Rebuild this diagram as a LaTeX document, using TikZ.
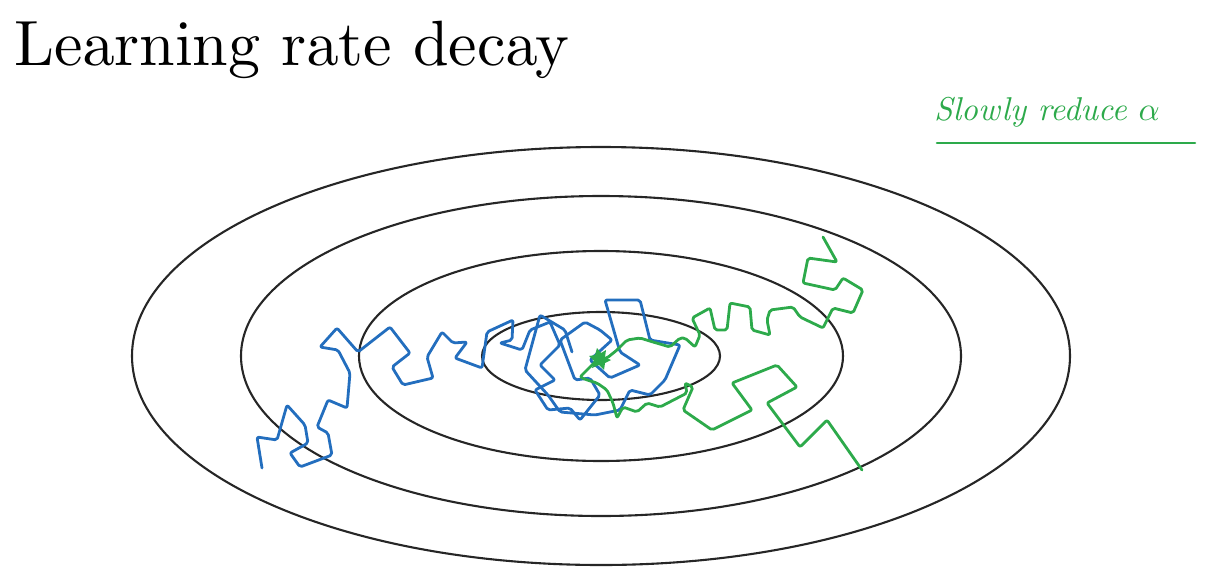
\documentclass[tikz,border=0pt]{standalone}
\definecolor{walkblue}{RGB}{35,110,190}
\definecolor{walkgreen}{RGB}{45,170,75}
\font\titlefont=cmr10 at 64pt
\font\notefont=cmti10 at 33pt
\font\notealpha=cmmi10 at 33pt
\begin{document}
\begin{tikzpicture}[x=1pt,y=-1pt,line join=round,line cap=round,
  contour/.style={draw=black!85,line width=2.1pt},
  walk/.style={line width=2.8pt,rounded corners=2pt}]
\useasboundingbox (0,0) rectangle (1209,573);
\node[anchor=base west,inner sep=0pt] (title) at (14,65) {\titlefont Learning rate decay};
\node[anchor=base west,inner sep=0pt,text=walkgreen] (note) at (934,120) {\notefont Slowly reduce \notealpha\char"0B};
\coordinate (ul) at (937,143); \coordinate (ur) at (1195,143);
\draw[walkgreen,line width=2.6pt] (ul) -- (ur);
% cost contours
\foreach \rx/\ry in {469/209,360/160,242/105,119/44}{\draw[contour] (601,356) ellipse ({\rx} and {\ry});}
% large steps with fixed alpha
\draw[walk,walkblue] (262,468)--(257,437)--(277,440)--(287,405)--(305,425)--(308,443)--(290,453)--(300,467)--(332,455)--(328,433)--(317,427)--(328,400)--(347,408)--(350,373)--(338,350)--(320,347)--(337,328)--(358,352)--(390,327)--(410,353)--(392,367)--(403,385)--(433,378)--(427,357)--(442,332)--(453,343)--(467,342)--(455,358)--(482,368)--(487,332)--(513,320)--(512,340)--(500,343)--(522,350)--(530,330)--(550,322)--(560,345)--(540,365)--(555,380)--(535,390)--(548,410)--(570,408)--(580,420)--(600,395)--(590,378)--(575,380)--(560,340)--(585,322)--(600,330)--(612,340)--(590,360)--(610,378)--(640,365)--(620,352)--(605,300)--(640,300)--(650,340)--(680,345)--(665,380)--(650,395)--(630,390)--(620,410)--(595,415)--(560,412)--(548,395)--(525,370)--(540,315)--(565,330)--(572,352);
% slowly reduced alpha
\draw[walk,walkgreen] (823,237)--(837,262)--(808,258)--(803,283)--(835,290)--(843,278)--(863,290)--(853,313)--(833,308)--(823,328)--(800,317)--(793,307)--(770,310)--(767,320)--(770,335)--(752,330)--(750,307)--(730,303)--(727,330)--(715,330)--(710,308)--(692,318)--(700,335)--(695,347)--(685,338)--(680,338)--(670,347)--(653,342)--(640,338)--(627,340)--(617,350)--(607,358)--(598,360);
\draw[walk,walkgreen] (862,470)--(827,420)--(800,447)--(767,403)--(797,387)--(777,365)--(732,383)--(752,410)--(712,430)--(683,410)--(693,387)--(685,383)--(687,393)--(660,407)--(647,403)--(637,412)--(623,407)--(617,418)--(613,403)--(607,390)--(597,383)--(587,380)--(580,377)--(590,367)--(597,360);
\fill[walkgreen] (597,348)--(601,353)--(606,350)--(605,357)--(611,360)--(605,363)--(604,370)--(599,365)--(592,368)--(594,361)--(589,356)--(595,355)--cycle;
\end{tikzpicture}
\end{document}
